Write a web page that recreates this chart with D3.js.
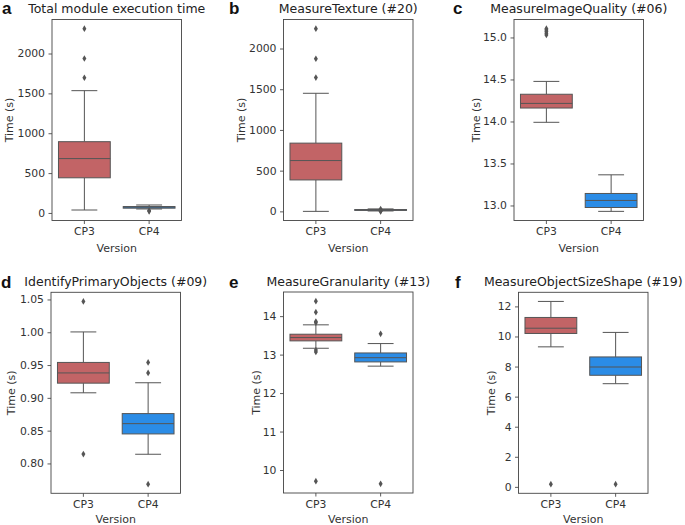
<!DOCTYPE html>
<html>
<head>
<meta charset="utf-8">
<script src="https://cdn.jsdelivr.net/npm/d3@7"></script>
<style>
  body { margin: 0; background: #fff; }
  text { font-family: "DejaVu Sans", sans-serif; }
</style>
</head>
<body>
<svg id="chart" width="685" height="525"></svg>
<script>
// data
const versions = ['CP3', 'CP4']
const letters = ['a', 'b', 'c', 'd', 'e', 'f']
const titles = [
  'Total module execution time',
  'MeasureTexture (#20)',
  'MeasureImageQuality (#06)',
  'IdentifyPrimaryObjects (#09)',
  'MeasureGranularity (#13)',
  'MeasureObjectSizeShape (#19)'
]
// [whisker low, q1, median, q3, whisker high]
const cp3_stats = [
  [37, 441, 682, 894, 1534],
  [0, 386, 624, 838, 1450],
  [13.99, 14.16, 14.215, 14.324, 14.477],
  [0.9077, 0.9224, 0.938, 0.954, 1.0005],
  [13.165, 13.357, 13.443, 13.53, 13.774],
  [9.31, 10.2, 10.55, 11.265, 12.33]
]
const cp4_stats = [
  [50, 60, 74, 80, 100],
  [5, 12, 17, 22, 30],
  [12.93, 12.976, 13.06, 13.143, 13.365],
  [0.814, 0.845, 0.8607, 0.876, 0.923],
  [12.70, 12.81, 12.92, 13.043, 13.287],
  [6.86, 7.42, 7.97, 8.64, 10.27]
]
const cp3_outliers = [
  [1696, 1938, 2312],
  [1643, 1874, 2244],
  [15.03, 15.05, 15.07, 15.09, 15.105],
  [0.8143, 1.047],
  [9.71, 13.07, 13.12, 13.83, 13.86, 14.104, 14.39],
  [0.18]
]
const cp4_outliers = [
  [20, 30],
  [0, 3, 28],
  [],
  [0.7684, 0.938, 0.954],
  [9.64, 13.54],
  [0.18]
]
const y_ticks = [
  [0, 500, 1000, 1500, 2000],
  [0, 500, 1000, 1500, 2000],
  [13.0, 13.5, 14.0, 14.5, 15.0],
  [0.80, 0.85, 0.90, 0.95, 1.00, 1.05],
  [10, 11, 12, 13, 14],
  [0, 2, 4, 6, 8, 10, 12]
]
const tick_formats = ['d', 'd', '.1f', '.2f', 'd', 'd']

// layout
const ax_left = [52, 283.5, 514, 51, 283.5, 518.5]
const ax_top = [19.5, 19.5, 19.5, 292.3, 292, 292.3]
const ylab_x = [9, 241, 476, 11, 256, 491]
const xlab_dy = [31, 31, 31, 29.5, 29.5, 29.5]
const letter_x = [2, 229, 453, 1, 229, 455]
const letter_y = [14, 14, 14, 288, 288, 288]
const ax_w = 129.5
const ax_h = 201
const colors = ['#c26466', '#2b8ce6']
const gray = '#555'

const svg = d3.select('#chart')

letters.forEach((letter, i) => {
  let g = svg.append('g')
    .attr('transform', `translate(${ax_left[i]},${ax_top[i]})`)

  let all = cp3_stats[i].concat(cp4_stats[i], cp3_outliers[i], cp4_outliers[i])
  let lo = d3.min(all), hi = d3.max(all)
  let pad = (hi - lo) * 0.05

  let y = d3.scaleLinear().domain([lo - pad, hi + pad]).range([ax_h, 0])
  let x = d3.scaleBand().domain(versions).range([0, ax_w])

  // axes
  let y_axis = d3.axisLeft(y)
    .tickValues(y_ticks[i])
    .tickFormat(d3.format(tick_formats[i]))
    .tickSize(3.5).tickPadding(3.5)
  let yg = g.append('g').call(y_axis)
  let xg = g.append('g').attr('transform', `translate(0,${ax_h})`)
    .call(d3.axisBottom(x).tickSize(3.5).tickPadding(3.5))
  for (let a of [yg, xg]) {
    a.select('.domain').remove()
    a.selectAll('line').attr('stroke', '#333').attr('stroke-width', 0.8)
    a.selectAll('text').attr('fill', '#333').style('font-size', '10.8px')
      .style('font-family', '"DejaVu Sans", sans-serif')
  }

  // boxes
  let stats = [cp3_stats[i], cp4_stats[i]]
  let outliers = [cp3_outliers[i], cp4_outliers[i]]
  let bw = x.bandwidth() * 0.8
  versions.forEach((v, k) => {
    let s = stats[k]
    let cx = x(v) + x.bandwidth() / 2
    let bg = g.append('g')
    bg.append('line')
      .attr('x1', cx).attr('x2', cx).attr('y1', y(s[0])).attr('y2', y(s[1]))
      .attr('stroke', gray).attr('stroke-width', 1)
    bg.append('line')
      .attr('x1', cx).attr('x2', cx).attr('y1', y(s[3])).attr('y2', y(s[4]))
      .attr('stroke', gray).attr('stroke-width', 1)
    for (let w of [s[0], s[4]]) {
      bg.append('line')
        .attr('x1', cx - bw / 4).attr('x2', cx + bw / 4)
        .attr('y1', y(w)).attr('y2', y(w))
        .attr('stroke', gray).attr('stroke-width', 1)
    }
    bg.append('rect')
      .attr('x', cx - bw / 2).attr('width', bw)
      .attr('y', y(s[3])).attr('height', Math.max(y(s[1]) - y(s[3]), 0.5))
      .attr('fill', colors[k]).attr('stroke', gray).attr('stroke-width', 1)
    bg.append('line')
      .attr('x1', cx - bw / 2).attr('x2', cx + bw / 2)
      .attr('y1', y(s[2])).attr('y2', y(s[2]))
      .attr('stroke', gray).attr('stroke-width', 1)
    bg.selectAll('path.flier').data(outliers[k]).join('path')
      .attr('class', 'flier')
      .attr('d', d3.symbol(d3.symbolDiamond2, 18)())
      .attr('transform', d => `translate(${cx},${y(d)}) scale(0.75,1.25)`)
      .attr('fill', gray)
  })

  // frame
  g.append('rect')
    .attr('width', ax_w).attr('height', ax_h)
    .attr('fill', 'none').attr('stroke', '#444').attr('stroke-width', 0.9)

  // labels
  g.append('text')
    .attr('x', ax_w / 2).attr('y', ax_h + xlab_dy[i])
    .attr('text-anchor', 'middle').attr('fill', '#333')
    .style('font-size', '11px').text('Version')
  g.append('text')
    .attr('x', ax_w / 2).attr('y', -6.5)
    .attr('text-anchor', 'middle').attr('fill', '#222')
    .style('font-size', '12.5px').text(titles[i])

  // y label, placed in figure coordinates
  svg.append('text')
    .attr('transform', `translate(${ylab_x[i] + 4},${ax_top[i] + ax_h / 2}) rotate(-90)`)
    .attr('text-anchor', 'middle').attr('fill', '#333')
    .style('font-size', '11px').text('Time (s)')
})

// panel letters
letters.forEach((l, i) => {
  svg.append('text')
    .attr('x', letter_x[i]).attr('y', letter_y[i])
    .style('font-family', '"Liberation Sans", Arial, sans-serif')
    .style('font-weight', 'bold').style('font-size', '17px')
    .attr('fill', '#111').text(l)
})
</script>
</body>
</html>
